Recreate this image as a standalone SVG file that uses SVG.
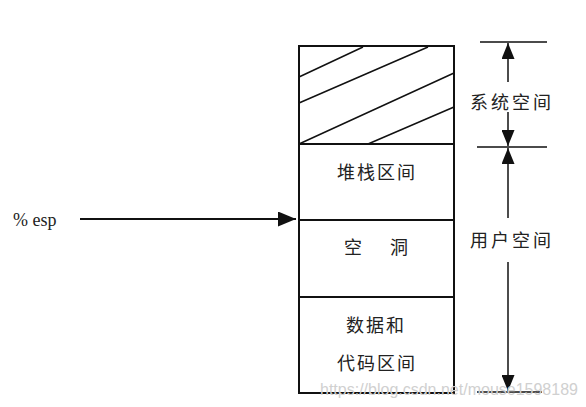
<svg xmlns="http://www.w3.org/2000/svg" width="586" height="407" viewBox="0 0 586 407">
<style>
.ln{stroke:#111;stroke-width:2;fill:none}
.th{stroke:#111;stroke-width:1.5;fill:none}
.t{font-family:"Noto Sans CJK SC","Noto Sans",sans-serif;font-size:18px;fill:#222;text-anchor:middle}
.e{font-family:"Liberation Serif",serif;font-size:18px;fill:#222}
.wm{font-family:"Liberation Sans",sans-serif;font-size:16px;fill:#d0d0d0}
</style>
<defs>
<marker id="ah" viewBox="0 0 10 10" refX="10" refY="5" markerWidth="16" markerHeight="13" markerUnits="userSpaceOnUse" orient="auto" preserveAspectRatio="none">
<path d="M0,0 L10,5 L0,10 Z" fill="#111"/>
</marker>
<marker id="ahb" viewBox="0 0 10 10" refX="10" refY="5" markerWidth="18" markerHeight="15" markerUnits="userSpaceOnUse" orient="auto" preserveAspectRatio="none">
<path d="M0,0 L10,5 L0,10 Z" fill="#111"/>
</marker>
</defs>
<rect width="586" height="407" fill="#fff"/>
<g id="system">
<rect x="299" y="46" width="155" height="98" class="ln"/>
<path d="M299,77 L363,47 M299,103 L428,47 M299,144 L454,73 M368,144 L454,107" class="th"/>
</g>
<g id="stack">
<rect x="299" y="144" width="155" height="76" class="ln"/>
<text x="377" y="179" class="t" letter-spacing="2">堆栈区间</text>
</g>
<g id="hole">
<rect x="299" y="220" width="155" height="77" class="ln"/>
<text x="353" y="254" class="t">空</text>
<text x="399" y="254" class="t">洞</text>
</g>
<g id="data">
<rect x="299" y="297" width="155" height="96" class="ln"/>
<text x="376" y="332" class="t" letter-spacing="2">数据和</text>
<text x="377" y="370" class="t" letter-spacing="2">代码区间</text>
</g>
<g id="esp">
<text x="13" y="226" class="e">% esp</text>
</g>
<g id="sys-label">
<text x="512" y="109" class="t" letter-spacing="3">系统空间</text>
</g>
<g id="user-label">
<text x="512" y="247" class="t" letter-spacing="3">用户空间</text>
</g>
<g id="connectors">
<path d="M80,219 L296,219" class="ln" style="stroke-width:1.8" marker-end="url(#ahb)"/>
<path d="M480,42 L547,42 M477,147 L547,147 M477,392 L542,392" class="th"/>
<path d="M508,82 L508,43" class="th" marker-end="url(#ah)"/>
<path d="M508,112 L508,146" class="th" marker-end="url(#ah)"/>
<path d="M508,218 L508,148" class="th" marker-end="url(#ah)"/>
<path d="M508,262 L508,391" class="th" marker-end="url(#ah)"/>
</g>
<text x="320" y="395" class="wm">https://blog.csdn.net/mouse1598189</text>
</svg>
